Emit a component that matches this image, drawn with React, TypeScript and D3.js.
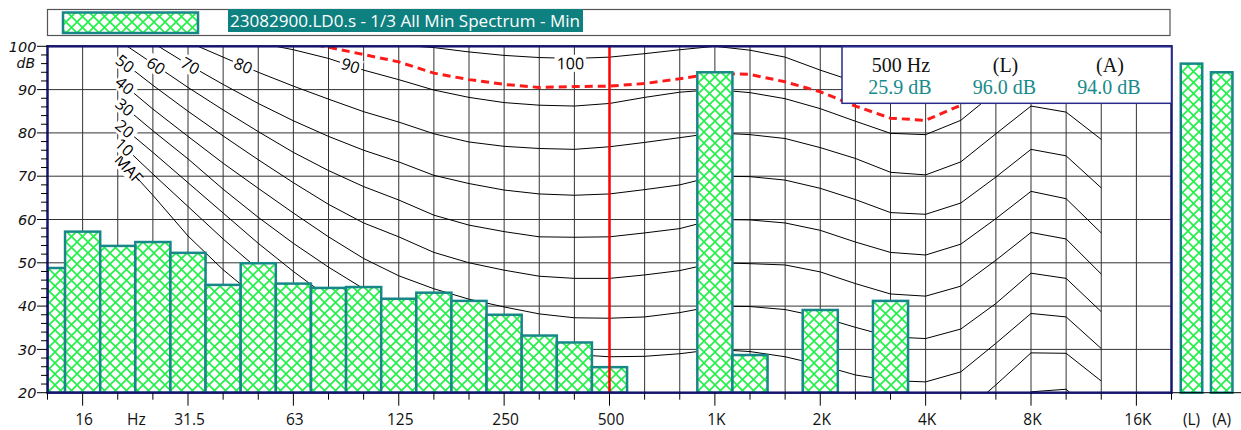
import React from 'react';
import * as d3 from 'd3';

// ---------- data ----------
const bands = ['12.5', '16', '20', '25', '31.5', '40', '50', '63', '80', '100', '125', '160', '200', '250', '315', '400', '500', '630', '800', '1K', '1.25K', '1.6K', '2K', '2.5K', '3.15K', '4K', '5K', '6.3K', '8K', '10K', '12.5K', '16K'];
const spectrumMin: (number | null)[] = [48.8, 57.2, 53.9, 54.8, 52.3, 44.9, 49.9, 45.2, 44.2, 44.4, 41.7, 43.1, 41.2, 38.0, 33.2, 31.6, 25.9, null, null, 94.0, 28.7, null, 39.1, null, 41.2, null, null, null, null, null, null, null];
const overallLabels = ['(L)', '(A)'];
const overallValues = [96.0, 94.0];

const contourBands = ['20', '25', '31.5', '40', '50', '63', '80', '100', '125', '160', '200', '250', '315', '400', '500', '630', '800', '1K', '1.25K', '1.6K', '2K', '2.5K', '3.15K', '4K', '5K', '6.3K', '8K', '10K', '12.5K'];
const contourMAF = [74.5, 65.6, 56.2, 48.4, 41.7, 35.5, 29.8, 25.1, 20.7, 16.8, 13.8, 11.2, 8.9, 7.2, 6.0, 5.0, 4.4, 4.2, 3.7, 2.6, 1.0, -1.2, -3.6, -3.9, -1.1, 6.6, 15.3, 16.4, 11.6];
const contour10 = [78.2, 70.5, 63.0, 55.5, 48.5, 41.5, 35.5, 30.0, 25.5, 21.5, 18.5, 15.5, 13.5, 12.0, 11.0, 10.5, 10.0, 10.0, 9.5, 8.5, 6.5, 4.2, 2.5, 2.5, 5.0, 12.0, 20.2, 20.8, 13.5];
const contour20 = [82.3, 75.5, 68.5, 61.5, 54.5, 48.0, 42.0, 36.5, 32.0, 28.0, 25.0, 22.5, 20.8, 19.5, 18.8, 18.8, 19.2, 20.0, 19.4, 18.2, 16.3, 13.9, 12.5, 12.4, 14.8, 21.8, 29.2, 29.1, 22.7];
const contour30 = [87.3, 80.5, 74.0, 67.0, 60.5, 54.5, 49.0, 44.0, 39.8, 36.3, 33.8, 31.8, 30.2, 28.8, 28.3, 28.4, 29.0, 30.0, 29.5, 28.3, 26.4, 24.1, 22.8, 22.5, 24.8, 31.4, 38.3, 37.5, 30.2];
const contour40 = [92.3, 85.5, 79.2, 73.0, 67.2, 61.5, 56.0, 51.0, 47.0, 44.0, 41.6, 39.8, 38.2, 37.3, 37.2, 37.5, 38.5, 40.0, 39.9, 39.2, 37.5, 35.1, 32.9, 32.5, 34.7, 40.6, 47.6, 46.4, 38.7];
const contour50 = [97.3, 91.0, 85.0, 79.3, 73.8, 68.5, 63.5, 59.2, 56.0, 52.4, 50.0, 48.3, 46.9, 46.4, 46.4, 47.2, 48.2, 50.0, 49.8, 49.5, 47.9, 45.2, 42.8, 42.3, 44.6, 50.6, 57.0, 55.5, 47.4];
const contour60 = [101.5, 96.0, 90.5, 85.3, 80.3, 75.5, 71.3, 67.6, 64.5, 61.0, 58.7, 57.2, 56.0, 55.9, 56.0, 56.9, 57.9, 60.0, 59.9, 59.2, 57.5, 54.8, 52.4, 51.8, 54.3, 60.2, 66.5, 64.8, 56.9];
const contour70 = [106.0, 100.8, 95.8, 91.2, 86.8, 82.8, 79.2, 76.0, 73.3, 70.2, 68.3, 66.8, 65.9, 65.6, 65.9, 66.9, 68.0, 70.0, 69.9, 69.1, 67.2, 64.6, 61.6, 61.2, 63.8, 69.8, 76.2, 74.7, 67.3];
const contour80 = [110.0, 105.0, 101.0, 97.5, 94.0, 90.8, 87.8, 84.9, 82.5, 79.8, 77.9, 76.9, 76.4, 76.2, 76.8, 77.8, 78.9, 80.0, 79.6, 78.7, 76.6, 74.1, 70.9, 70.3, 73.3, 79.8, 86.2, 84.8, 78.5];
const contour90 = [114.0, 109.0, 105.0, 102.5, 100.8, 99.2, 97.2, 94.5, 92.3, 89.9, 88.2, 87.0, 86.4, 86.2, 86.8, 88.2, 89.4, 90.0, 89.3, 87.9, 85.6, 82.7, 79.9, 79.6, 82.9, 89.5, 95.5, 94.5, 89.5];
const contour100 = [118.0, 114.0, 110.5, 107.5, 105.0, 103.0, 101.6, 100.8, 100.3, 99.7, 98.7, 97.9, 97.4, 97.2, 97.5, 98.3, 99.2, 100.0, 99.1, 97.5, 94.5, 91.8, 89.5, 89.0, 92.0, 98.5, 105.0, 104.0, 99.0];
const contourNames = ['MAF', '10', '20', '30', '40', '50', '60', '70', '80', '90', '100'];
const contourSeries = [contourMAF, contour10, contour20, contour30, contour40, contour50, contour60, contour70, contour80, contour90, contour100];
const loudnessContour = [113.0, 108.5, 105.5, 103.5, 102.5, 101.3, 99.8, 98.1, 96.4, 93.8, 92.3, 91.2, 90.5, 90.7, 90.8, 91.4, 92.5, 93.8, 93.5, 91.8, 89.5, 86.2, 83.4, 82.9, 86.4, 93.0, 99.5, 98.5, 93.0];
const labelSearchUpTo = '1K';

const cursorBand = '500';
const xTickLabels = ['16', '31.5', '63', '125', '250', '500', '1K', '2K', '4K', '8K', '16K'];
const unitLabel = 'Hz';
const unitBetween = ['20', '25'];
const yTicks = [20, 30, 40, 50, 60, 70, 80, 90, 100];
const yMinorStep = 2;
const yUnit = 'dB';
const legendTitle = '23082900.LD0.s - 1/3 All Min Spectrum - Min';
const infoHeaders = ['500 Hz', '(L)', '(A)'];

// ---------- style ----------
const TEAL = '#178787';
const GREEN = '#22f048';
const NAVY = '#15156e';
const SANS = '"Open Sans", "Noto Sans", sans-serif';

export default function App() {
  const W = 1241;
  const H = 430;
  const plot = { left: 47.5, right: 1171.5, top: 46.3, bottom: 392.7 };

  const x = d3.scaleLinear().domain([0, bands.length]).range([plot.left, plot.right]);
  const y = d3.scaleLinear().domain([20, 100]).range([plot.bottom, plot.top]);
  const bx = (name: string) => x(bands.indexOf(name));
  const xo = d3.scalePoint<string>().domain(overallLabels).range([1191.5, 1221.7]);
  const overallWidth = 21.5;
  const infoX = d3.scalePoint<string>().domain(infoHeaders).range([901, 1110]);

  const cursorIdx = bands.indexOf(cursorBand);
  const infoValues = [spectrumMin[cursorIdx] as number, ...overallValues].map((v) => `${v.toFixed(1)} dB`);

  const line = d3
    .line<number>()
    .x((_, i) => bx(contourBands[i]))
    .y((v) => y(v));

  const minorTicks = d3.range(yTicks[0], yTicks[yTicks.length - 1] + 0.001, yMinorStep);

  const labelFor = (vals: number[]) => {
    const pts = vals.map((v, i) => [bx(contourBands[i]), y(v)] as [number, number]);
    const ang = (a: [number, number], b: [number, number]) => (Math.atan2(b[1] - a[1], b[0] - a[0]) * 180) / Math.PI;
    if (vals[0] < 100) {
      return { px: pts[0][0], py: pts[0][1], angle: ang(pts[0], pts[1]), anchor: 'start', shift: 0 };
    }
    const level = 95.5;
    const end = contourBands.indexOf(labelSearchUpTo);
    for (let i = 0; i < end; i++) {
      if (vals[i] >= level && vals[i + 1] < level) {
        const t = (vals[i] - level) / (vals[i] - vals[i + 1]);
        return {
          px: pts[i][0] + t * (pts[i + 1][0] - pts[i][0]),
          py: pts[i][1] + t * (pts[i + 1][1] - pts[i][1]),
          angle: ang(pts[i], pts[i + 1]),
          anchor: 'middle',
          shift: 0,
        };
      }
    }
    const k = d3.minIndex(vals.slice(0, end));
    return { px: pts[k][0] - 4, py: pts[k][1], angle: ang(pts[k - 1], pts[k + 1]), anchor: 'middle', shift: 5 };
  };

  return (
    <svg width={W} height={H} style={{ position: 'absolute', left: 0, top: 0, background: '#fff' }} xmlns="http://www.w3.org/2000/svg">
      <defs>
        <pattern id="hatch" patternUnits="userSpaceOnUse" width={11} height={11}>
          <rect width={11} height={11} fill="#fff" />
          <path d="M-2,-2 L13,13 M13,-2 L-2,13" stroke={GREEN} strokeWidth={1.6} />
        </pattern>
        <clipPath id="plotClip">
          <rect x={plot.left} y={plot.top} width={plot.right - plot.left} height={plot.bottom - plot.top} />
        </clipPath>
      </defs>
      <rect width={W} height={H} fill="#fff" />

      {/* legend */}
      <rect x={47.5} y={9.5} width={1122.5} height={26} fill="#fff" stroke="#555" strokeWidth={1.2} />
      <rect x={63} y={12.5} width={135} height={20.5} fill="url(#hatch)" stroke={TEAL} strokeWidth={2.5} />
      <rect x={228} y={9} width={355} height={23} fill="#0f8080" />
      <text x={230} y={27} fill="#fff" fontFamily={SANS} fontSize={17} textLength={350} lengthAdjust="spacingAndGlyphs">
        {legendTitle}
      </text>

      {/* grid */}
      <g stroke="#333" strokeWidth={1}>
        {yTicks.slice(1, -1).map((t) => (
          <line key={'h' + t} x1={plot.left} x2={plot.right} y1={y(t)} y2={y(t)} />
        ))}
        {d3.range(1, bands.length).map((j) => (
          <line key={'v' + j} x1={x(j)} x2={x(j)} y1={plot.top} y2={plot.bottom} />
        ))}
      </g>

      {/* equal loudness contours */}
      <g clipPath="url(#plotClip)">
        {contourSeries.map((vals, k) => (
          <path key={'c' + k} d={line(vals) || ''} fill="none" stroke="#000" strokeWidth={1} />
        ))}
        <path d={line(loudnessContour) || ''} fill="none" stroke="#ff1a1a" strokeWidth={3} strokeDasharray="8,5" />
        {contourSeries.map((vals, k) => {
          const lb = labelFor(vals);
          const name = contourNames[k];
          const w = name.length * 9.2;
          return (
            <g key={'l' + k} transform={`translate(${lb.px},${lb.py + lb.shift}) rotate(${lb.angle})`}>
              <rect x={lb.anchor === 'start' ? -1 : -w / 2 - 2} y={-8.5} width={w + 4} height={17} fill="#fff" />
              <text textAnchor={lb.anchor} dy="0.36em" fontFamily={SANS} fontSize={16} fill="#000">
                {name}
              </text>
            </g>
          );
        })}
      </g>

      {/* bars */}
      <g clipPath="url(#plotClip)">
        {spectrumMin.map((v, j) =>
          v == null ? null : (
            <rect
              key={'b' + j}
              x={Math.max(x(j - 0.5), plot.left)}
              y={y(v)}
              width={x(j + 0.5) - Math.max(x(j - 0.5), plot.left)}
              height={plot.bottom - y(v)}
              fill="url(#hatch)"
              stroke={TEAL}
              strokeWidth={2.5}
            />
          )
        )}
      </g>

      {/* cursor */}
      <line x1={x(cursorIdx)} x2={x(cursorIdx)} y1={plot.top} y2={plot.bottom} stroke="#ff0000" strokeWidth={2.5} />

      {/* overall bars */}
      {overallValues.map((v, k) => (
        <rect
          key={'o' + k}
          x={(xo(overallLabels[k]) as number) - overallWidth / 2}
          y={y(v)}
          width={overallWidth}
          height={plot.bottom - y(v)}
          fill="url(#hatch)"
          stroke={TEAL}
          strokeWidth={2.5}
        />
      ))}
      <line x1={plot.right} x2={W} y1={plot.bottom} y2={plot.bottom} stroke="#000" strokeWidth={1} />

      {/* plot border */}
      <rect x={plot.left} y={plot.top} width={plot.right - plot.left} height={plot.bottom - plot.top} fill="none" stroke={NAVY} strokeWidth={2.5} />

      {/* y axis */}
      <g stroke="#000" strokeWidth={1}>
        {minorTicks.map((t) => (
          <line key={'ym' + t} x1={yTicks.includes(t) ? 37 : 41} x2={plot.left} y1={y(t)} y2={y(t)} />
        ))}
      </g>
      <g fontFamily='"DejaVu Sans", sans-serif' fontStyle="italic" fontSize={14.5} fill="#111" textAnchor="end">
        {yTicks.map((t) => (
          <text key={'yl' + t} x={36.5} y={y(t) + 5.2}>
            {t}
          </text>
        ))}
        <text x={35} y={y(95) + 0.5} fontSize={14}>
          {yUnit}
        </text>
      </g>

      {/* x axis */}
      <g stroke="#000" strokeWidth={1}>
        {d3.range(0, bands.length + 1).map((j) => {
          const major = j < bands.length && xTickLabels.includes(bands[j]);
          return <line key={'xt' + j} x1={x(j)} x2={x(j)} y1={plot.bottom} y2={plot.bottom + (major ? 13 : 7)} />;
        })}
      </g>
      <g fontFamily={SANS} fontSize={15.5} fill="#111" textAnchor="middle">
        {xTickLabels.map((n) => (
          <text key={'xl' + n} x={bx(n) + 1.5} y={425}>
            {n}
          </text>
        ))}
        <text x={(bx(unitBetween[0]) + bx(unitBetween[1])) / 2 + 1} y={425}>
          {unitLabel}
        </text>
        {overallLabels.map((n) => (
          <text key={'ol' + n} x={xo(n) as number} y={425}>
            {n}
          </text>
        ))}
      </g>

      {/* info box */}
      <rect x={842} y={46.8} width={plot.right - 842} height={56.5} fill="#fff" stroke="#2a2a8c" strokeWidth={1.5} />
      <g fontFamily='"Liberation Serif", "Times New Roman", serif' fontSize={20} textAnchor="middle">
        {infoHeaders.map((h, k) => (
          <text key={'ih' + k} x={infoX(h) as number} y={71.7} fill="#111">
            {h}
          </text>
        ))}
        {infoHeaders.map((h, k) => (
          <text key={'iv' + k} x={(infoX(h) as number) - 1} y={94} fill="#178a8a">
            {infoValues[k]}
          </text>
        ))}
      </g>
    </svg>
  );
}
